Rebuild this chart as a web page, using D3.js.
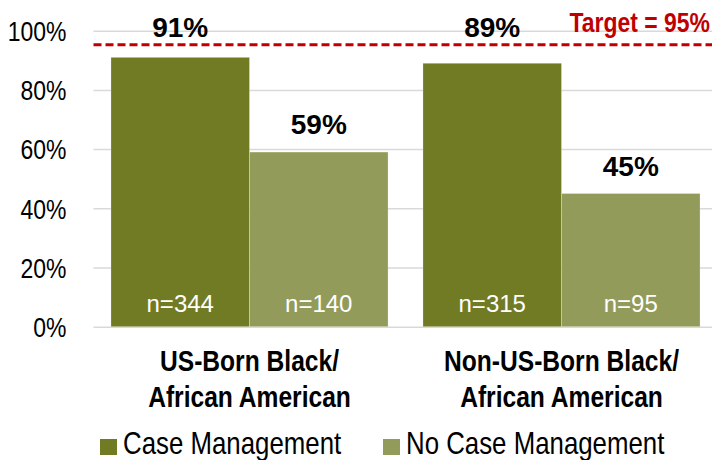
<!DOCTYPE html>
<html>
<head>
<meta charset="utf-8">
<script src="https://cdn.jsdelivr.net/npm/d3@7"></script>
<style>
  html, body { margin: 0; padding: 0; background: #fff; }
  svg { display: block; }
</style>
</head>
<body>
<div id="chart"></div>
<script>
// ---- data ----
const categories = [["US-Born Black/", "African American"], ["Non-US-Born Black/", "African American"]];
const categoryKeys = ["US-Born", "Non-US-Born"];
const seriesNames = ["Case Management", "No Case Management"];
const caseMgmtValues = [0.91, 0.89];
const noCaseMgmtValues = [0.59, 0.45];
const caseMgmtN = ["n=344", "n=315"];
const noCaseMgmtN = ["n=140", "n=95"];
const yTicks = [0, 0.2, 0.4, 0.6, 0.8, 1.0];
const targetValue = 0.95;
const targetLabel = "Target = 95%";

const W = 712, H = 460;
const colors = ["#707B24", "#929B5A"];

function hasFont(name) {
  const c = document.createElement("canvas").getContext("2d");
  const s = "abcdefghijklmWWWiii100%";
  c.font = "40px monospace";
  const w1 = c.measureText(s).width;
  c.font = `40px '${name}', monospace`;
  const w2 = c.measureText(s).width;
  return Math.abs(w1 - w2) > 0.5;
}
const narrowAvail = hasFont("Liberation Sans Narrow");
const NARROW = narrowAvail ? "'Liberation Sans Narrow', 'Arial Narrow', sans-serif" : "'Liberation Sans', Arial, sans-serif";
const SX = narrowAvail ? 1 : 0.82;
const WIDE = "'Liberation Sans', Arial, sans-serif";

function narrowText(sel, x, y) {
  sel.attr("font-family", NARROW)
     .attr("x", 0).attr("y", 0)
     .attr("transform", `translate(${x},${y}) scale(${SX},1)`);
  return sel;
}

const svg = d3.select("#chart").append("svg").attr("width", W).attr("height", H);

const plotLeft = 93.5, plotRight = 717.5, plotTop = 30.7, plotBottom = 326.7;

const y = d3.scaleLinear().domain([0, 1]).range([plotBottom, plotTop]);
const x0 = d3.scaleBand().domain(categoryKeys).range([plotLeft, plotRight]).paddingInner(0.112).paddingOuter(0.056);
const x1 = d3.scaleBand().domain(seriesNames).range([0, x0.bandwidth()]).padding(0);

// gridlines + tick labels via axis
const gridRight = W;
const axisG = svg.append("g").attr("transform", `translate(${plotLeft},0)`)
  .call(d3.axisLeft(y).tickValues(yTicks).tickFormat(d3.format(".0%"))
    .tickSizeInner(-(gridRight - plotLeft)).tickSizeOuter(0).tickPadding(27));
axisG.select(".domain").remove();
axisG.selectAll(".tick line").attr("stroke", "#D9D9D9").attr("stroke-width", 1.5);
axisG.selectAll(".tick text").each(function() {
  const t = d3.select(this);
  t.attr("font-family", NARROW).attr("font-size", 28).attr("fill", "#000")
   .attr("text-anchor", "end").attr("dy", "0.35em")
   .attr("x", -27 / SX).attr("transform", `scale(${SX},1)`);
});

// bars
const rows = categoryKeys.map((k, i) => ({
  key: k,
  vals: [
    { s: seriesNames[0], v: caseMgmtValues[i], n: caseMgmtN[i] },
    { s: seriesNames[1], v: noCaseMgmtValues[i], n: noCaseMgmtN[i] }
  ]
}));

const groups = svg.append("g").selectAll("g").data(rows).join("g")
  .attr("transform", d => `translate(${x0(d.key)},0)`);

groups.selectAll("rect").data(d => d.vals).join("rect")
  .attr("x", d => x1(d.s))
  .attr("y", d => y(d.v))
  .attr("width", x1.bandwidth())
  .attr("height", d => y(0) - y(d.v))
  .attr("fill", (d, i) => colors[i])
  .attr("stroke", "rgba(255,255,255,0.35)")
  .attr("stroke-width", 0.75);

// n labels
groups.selectAll("text.n").data(d => d.vals).join("text")
  .attr("class", "n")
  .attr("x", d => x1(d.s) + x1.bandwidth() / 2)
  .attr("y", y(0) - 15)
  .attr("text-anchor", "middle")
  .attr("font-family", WIDE)
  .attr("font-size", 24)
  .attr("fill", "#fff")
  .text(d => d.n);

// value labels
groups.selectAll("text.v").data(d => d.vals).join("text")
  .attr("class", "v")
  .attr("x", d => x1(d.s) + x1.bandwidth() / 2)
  .attr("y", d => {
    const above = y(d.v) - 18;
    return above - 20 < y(targetValue) + 4 && d.v > targetValue - 0.15 ? y(targetValue) - 9 : above;
  })
  .attr("text-anchor", "middle")
  .attr("font-family", WIDE)
  .attr("font-weight", "bold")
  .attr("font-size", 28)
  .attr("fill", "#000")
  .text(d => d3.format(".0%")(d.v));

// target line
svg.append("line")
  .attr("x1", plotLeft).attr("x2", W)
  .attr("y1", y(targetValue) - 0.7).attr("y2", y(targetValue) - 0.7)
  .attr("stroke", "#C00000").attr("stroke-width", 3)
  .attr("stroke-dasharray", "8,4");

narrowText(svg.append("text"), 710, y(targetValue) - 14)
  .attr("text-anchor", "end")
  .attr("font-weight", "bold")
  .attr("font-size", 28)
  .attr("fill", "#C00000")
  .text(targetLabel);

// category labels
rows.forEach((r, i) => {
  const cx = x0(r.key) + x0.bandwidth() / 2;
  categories[i].forEach((line, j) => {
    narrowText(svg.append("text"), cx, 370.7 + j * 36)
      .attr("text-anchor", "middle")
      .attr("font-weight", "bold")
      .attr("font-size", 30)
      .attr("fill", "#000")
      .text(line);
  });
});

// legend
const legendX = [100, 383];
seriesNames.forEach((s, i) => {
  svg.append("rect")
    .attr("x", legendX[i]).attr("y", 439)
    .attr("width", 17).attr("height", 16)
    .attr("fill", colors[i]);
  narrowText(svg.append("text"), legendX[i] + 23, 454.3)
    .attr("font-size", 31.5)
    .attr("fill", "#000")
    .text(s);
});
</script>
</body>
</html>
